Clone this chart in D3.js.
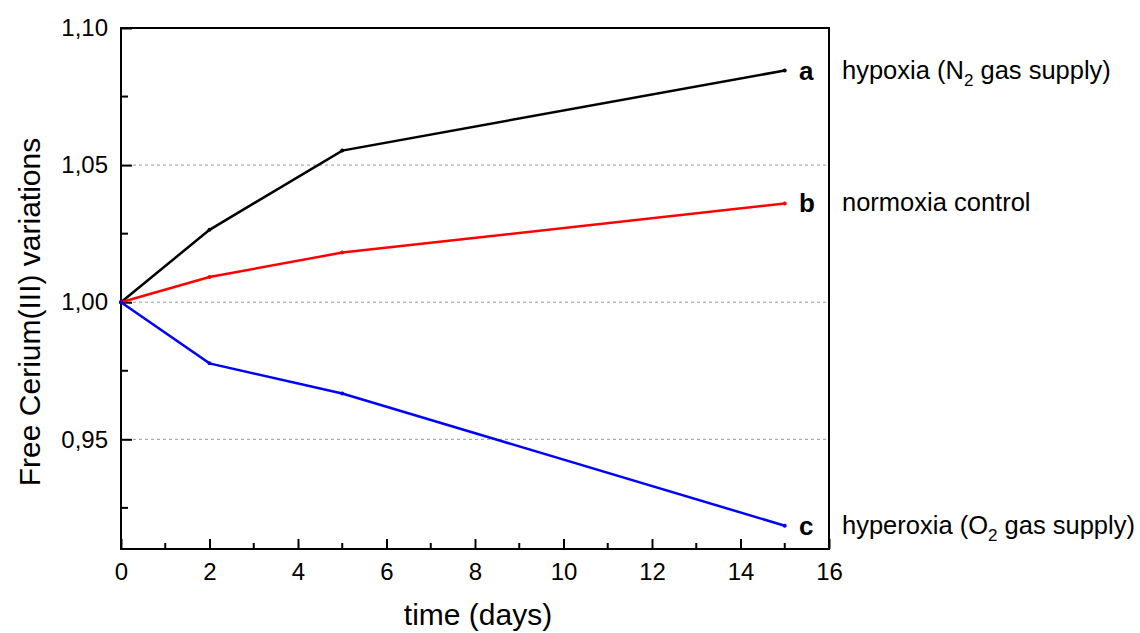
<!DOCTYPE html>
<html>
<head>
<meta charset="utf-8">
<script src="https://cdn.jsdelivr.net/npm/d3@7"></script>
<style>
  body { margin: 0; background: #fff; }
  svg { font-family: "Liberation Sans", Arial, sans-serif; }
</style>
</head>
<body>
<svg></svg>
<script>
// data
const days = [0, 2, 5, 15]
const hypoxia = [1.000, 1.0264, 1.0553, 1.0845]
const normoxia = [1.000, 1.0092, 1.0181, 1.0360]
const hyperoxia = [1.000, 0.9777, 0.9667, 0.9185]
const seriesNames = ['hypoxia', 'normoxia', 'hyperoxia']
const seriesColors = ['#000000', '#ff0000', '#0000ff']
const seriesLetters = ['a', 'b', 'c']
const xTicks = [0, 2, 4, 6, 8, 10, 12, 14, 16]
const yTicks = [0.95, 1.00, 1.05, 1.10]
const gridValues = [0.95, 1.00, 1.05]

const WIDTH = 1140
const HEIGHT = 633
const LEFT = 121
const RIGHT = 829
const TOP = 28
const BOTTOM = 549

const svg = d3.select('svg')
  .attr('width', WIDTH)
  .attr('height', HEIGHT)

const x = d3.scaleLinear().domain([0, 16]).range([LEFT, RIGHT])
const y = d3.scaleLinear().domain([0.91, 1.10]).range([BOTTOM, TOP])

// dashed grid
svg.append('g')
  .selectAll('line')
  .data(gridValues)
  .enter().append('line')
    .attr('x1', LEFT)
    .attr('x2', RIGHT)
    .attr('y1', d => y(d))
    .attr('y2', d => y(d))
    .attr('stroke', '#999')
    .attr('stroke-width', 1)
    .attr('stroke-dasharray', '3,3')

// bottom axis, ticks pointing in
const xAxis = svg.append('g')
  .attr('transform', `translate(0,${BOTTOM})`)
  .call(d3.axisBottom(x).tickValues(xTicks).tickSize(-10).tickPadding(14).tickFormat(d3.format('d')))
xAxis.selectAll('.tick text').attr('font-size', 24).attr('fill', '#000').attr('font-family', 'Liberation Sans')
xAxis.append('g')
  .selectAll('line')
  .data(d3.range(1, 16, 2))
  .enter().append('line')
    .attr('x1', d => x(d)).attr('x2', d => x(d))
    .attr('y1', 0).attr('y2', -6)
    .attr('stroke', '#000').attr('stroke-width', 2)

// left axis
const yAxis = svg.append('g')
  .attr('transform', `translate(${LEFT},0)`)
  .call(d3.axisLeft(y).tickValues(yTicks).tickSize(-11).tickPadding(13)
    .tickFormat(d => d3.format('.2f')(d).replace('.', ',')))
yAxis.selectAll('.tick text').attr('font-size', 24).attr('fill', '#000').attr('font-family', 'Liberation Sans')
yAxis.append('g')
  .selectAll('line')
  .data([0.925, 0.975, 1.025, 1.075])
  .enter().append('line')
    .attr('x1', 0).attr('x2', 7)
    .attr('y1', d => y(d)).attr('y2', d => y(d))
    .attr('stroke', '#000').attr('stroke-width', 2)

svg.selectAll('.domain').remove()
svg.selectAll('.tick line').attr('stroke', '#000').attr('stroke-width', 2)

// frame
svg.append('rect')
  .attr('x', LEFT).attr('y', TOP)
  .attr('width', RIGHT - LEFT).attr('height', BOTTOM - TOP)
  .attr('fill', 'none')
  .attr('stroke', '#000')
  .attr('stroke-width', 2)

// series
const allSeries = [hypoxia, normoxia, hyperoxia]
const line = d3.line()
  .x((d, i) => x(days[i]))
  .y(d => y(d))

allSeries.forEach((values, k) => {
  svg.append('path')
    .attr('class', seriesNames[k])
    .attr('d', line(values))
    .attr('fill', 'none')
    .attr('stroke', seriesColors[k])
    .attr('stroke-width', 2.5)
  svg.append('g')
    .selectAll('circle')
    .data(values)
    .enter().append('circle')
      .attr('cx', (d, i) => x(days[i]))
      .attr('cy', d => y(d))
      .attr('r', 2)
      .attr('fill', seriesColors[k])

  const last = values[values.length - 1]
  svg.append('text')
    .attr('x', 799)
    .attr('y', y(last) + 9)
    .attr('font-size', 26)
    .attr('font-weight', 'bold')
    .text(seriesLetters[k])
})

// labels outside the frame
const legendLabels = [
  ['hypoxia (N', '2', ' gas supply)'],
  ['normoxia control', '', ''],
  ['hyperoxia (O', '2', ' gas supply)']
]
legendLabels.forEach((parts, k) => {
  const values = allSeries[k]
  const t = svg.append('text')
    .attr('x', 842)
    .attr('y', y(values[values.length - 1]) + 8)
    .attr('font-size', 25.5)
  t.append('tspan').text(parts[0])
  if (parts[1]) {
    t.append('tspan').attr('font-size', 17).attr('dy', 7).text(parts[1])
    t.append('tspan').attr('dy', -7).text(parts[2])
  }
})

// axis titles
svg.append('text')
  .attr('x', (LEFT + RIGHT) / 2 + 3)
  .attr('y', 625)
  .attr('text-anchor', 'middle')
  .attr('font-size', 30)
  .text('time (days)')

svg.append('text')
  .attr('transform', 'translate(40,312) rotate(-90)')
  .attr('text-anchor', 'middle')
  .attr('font-size', 30)
  .text('Free Cerium(III) variations')
</script>
</body>
</html>
